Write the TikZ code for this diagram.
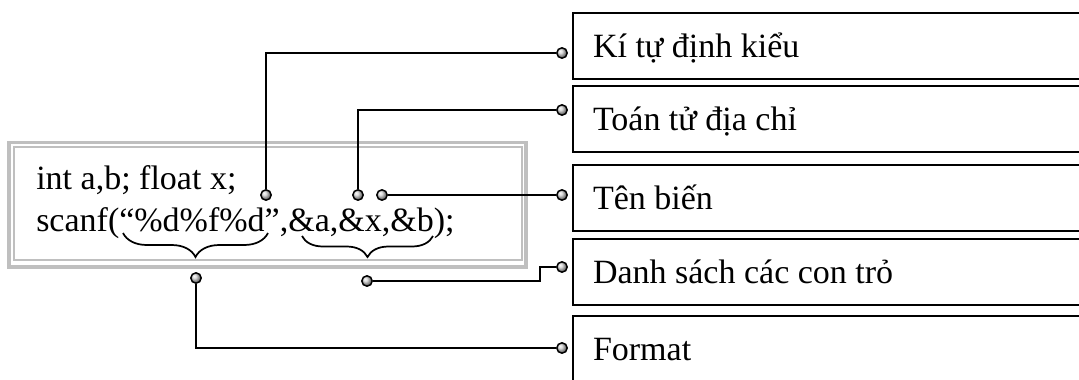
\documentclass[tikz,border=0pt]{standalone}
\usepackage{fontspec}
\setmainfont{Liberation Serif}
\usetikzlibrary{decorations.pathreplacing}
\newcommand{\lbtext}[1]{\makebox[375pt][l]{#1}}
\begin{document}
\begin{tikzpicture}[x=0.75pt,y=-0.75pt,
  txt/.style={font=\fontsize{25.5}{30}\selectfont},
  lbl/.style={txt,draw=black,line width=1.5pt,anchor=north west,minimum height=49.5pt,
    inner xsep=15pt,inner ysep=0pt,text height=16.9pt,text depth=0pt},
  dot/.style={circle,draw=black,line width=1.1pt,minimum size=7.8pt,inner sep=0pt,ball color=gray!35},
  conn/.style={line width=1.5pt,black},
  frame/.style={draw=black!25},
  brc/.style={line width=1.3pt,decorate,decoration={brace,mirror,amplitude=#1}}]
\useasboundingbox (0,0) rectangle (1079,379);
\clip (0,0) rectangle (1079,379);
% code frame
\draw[frame,line width=2.3pt] (9,142.5) rectangle (526,267);
\draw[frame,line width=1.7pt] (14,147) rectangle (521.7,259.7);
% code text
\node[txt,anchor=base west,inner sep=0pt] (code1) at (36,189) {int a,b; float x;};
\node[txt,anchor=base west,inner sep=0pt] (code2) at (36,231) {scanf(“\%d\%f\%d”,\&a,\&x,\&b);};
% braces
\draw[brc=18pt] (123,233) -- (268,233);
\draw[brc=15.75pt] (302,236) -- (433,236);
% label boxes
\node[lbl] (b1) at (572,12) {\lbtext{Kí tự định kiểu}};
\node[lbl] (b2) at (572,85) {\lbtext{Toán tử địa chỉ}};
\node[lbl] (b3) at (572,164) {\lbtext{Tên biến}};
\node[lbl] (b4) at (572,238) {\lbtext{Danh sách các con trỏ}};
\node[lbl] (b5) at (572,315) {\lbtext{Format}};
% circles
\node[dot] (c1) at (266,195) {};
\node[dot] (c2) at (358,195) {};
\node[dot] (c3) at (382,195) {};
\node[dot] (c4) at (367,281) {};
\node[dot] (c5) at (196,278) {};
\node[dot] (t1) at (562,53) {};
\node[dot] (t2) at (562,110) {};
\node[dot] (t3) at (562,195) {};
\node[dot] (t4) at (562,267) {};
\node[dot] (t5) at (562,348) {};
\coordinate (k4) at (540,281);
% connectors
\draw[conn] (c1) |- (t1);
\draw[conn] (c2) |- (t2);
\draw[conn] (c3) -- (t3);
\draw[conn] (c4) -- (k4) |- (t4);
\draw[conn] (c5) |- (t5);
\end{tikzpicture}
\end{document}
